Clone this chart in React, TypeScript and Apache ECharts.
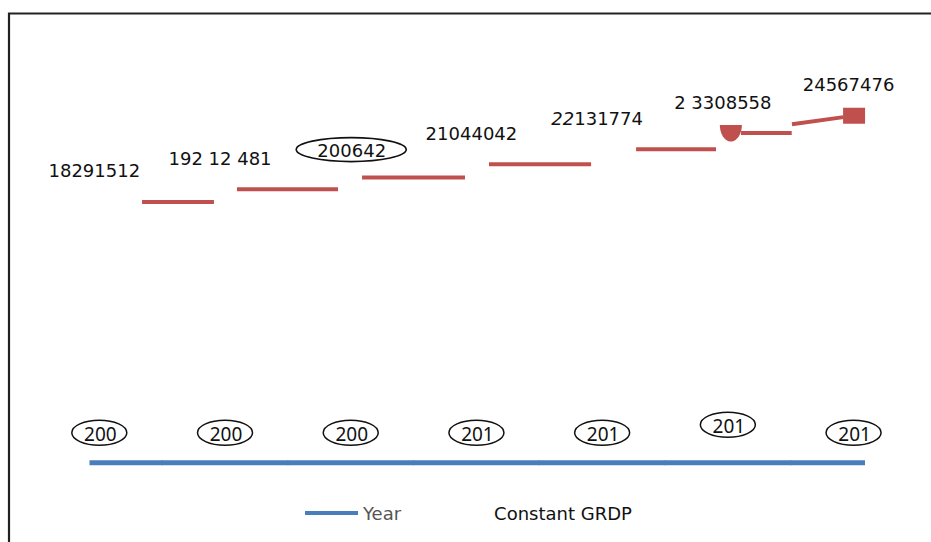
import React, { useEffect, useRef } from 'react';
import * as echarts from 'echarts';

// ---- data ----
const years = [2007, 2008, 2009, 2010, 2011, 2012, 2013];
const yearLabels = years.map((y) => String(y).slice(0, 3));
const grdp = [18291512, 19212481, 20064200, 21044042, 22131774, 23308558, 24567476];
const grdpLabels = ['18291512', '192 12 481', '200642', '21044042', '{i|22}131774', '2 3308558', '24567476'];
const seriesNames = ['Year', 'Constant GRDP'];

// ---- styling (fractions of one category step) ----
const PIECES: number[][] = [
  [0.34, 0.912],
  [0.095, 0.899],
  [0.09, 0.909],
  [0.1, 0.912],
  [0.27, 0.906],
  [0.105, 0.508],
  [-0.49, -0.08],
];
const YEAR_LIFT = [30, 30, 30, 30, 30, 38, 30];
const RED = '#c0504d';
const BLUE = '#4a7ebb';

export default function App() {
  const ref = useRef<HTMLDivElement>(null);
  useEffect(() => {
    if (!ref.current) return;
    const chart = echarts.init(ref.current, null, { renderer: 'svg' });

    const grdpItem = (params: any, api: any) => {
      const i = params.dataIndex;
      const xv = api.value(0);
      const v = api.value(1);
      const [px, py] = api.coord([xv, v]);
      const step = api.coord([xv + 1, v])[0] - px;
      const children: any[] = [];
      const [f0, f1] = PIECES[i];
      if (f0 >= 0) {
        children.push({
          type: 'line',
          shape: { x1: px + f0 * step, y1: py, x2: px + f1 * step, y2: py },
          style: { stroke: RED, lineWidth: 4 },
        });
      } else {
        const prevY = api.coord([xv - 1, grdp[i - 1]])[1];
        const at = (f: number) => [px + f * step, py + (py - prevY) * f];
        const a = at(f0);
        const b = at(f1);
        children.push({
          type: 'line',
          shape: { x1: a[0], y1: a[1], x2: b[0], y2: b[1] },
          style: { stroke: RED, lineWidth: 4 },
        });
      }
      if (i === 5) {
        const cx = px + 3;
        const cy = py - 8;
        const pts: number[][] = [];
        for (let k = 0; k <= 24; k++) {
          const t = (Math.PI * k) / 24;
          pts.push([cx + 11 * Math.cos(t), cy + 16.5 * Math.sin(t)]);
        }
        children.push({ type: 'polygon', shape: { points: pts }, style: { fill: RED } });
      }
      if (i === 6) {
        children.push({
          type: 'rect',
          shape: { x: px - 10.5, y: py - 8, width: 22, height: 16 },
          style: { fill: RED },
        });
      }
      const circled = i === 2;
      const lx = px + (circled ? 1 : -5);
      const ly = py + (circled ? -27.5 : -31);
      if (circled) {
        children.push({
          type: 'ellipse',
          shape: { cx: lx - 0.5, cy: ly - 0.5, rx: 55, ry: 12 },
          style: { fill: 'none', stroke: '#111', lineWidth: 1.6 },
        });
      }
      children.push({
        type: 'text',
        x: lx,
        y: ly,
        style: {
          text: grdpLabels[i],
          fontFamily: 'DejaVu Sans',
          fontSize: 18,
          fill: '#111',
          align: 'center',
          verticalAlign: 'middle',
          rich: { i: { fontStyle: 'italic', fontFamily: 'DejaVu Sans', fontSize: 18, fill: '#111' } },
        },
      });
      return { type: 'group', children };
    };

    const yearItem = (params: any, api: any) => {
      const i = params.dataIndex;
      const xv = api.value(0);
      const v = api.value(1);
      const [px, py] = api.coord([xv, v]);
      const step = api.coord([xv + 1, v])[0] - px;
      const cs = params.coordSys;
      const x1 = Math.max(cs.x, px - step / 2 - 0.5);
      const x2 = Math.min(cs.x + cs.width, px + step / 2 + 0.5);
      const cy = py - YEAR_LIFT[i];
      return {
        type: 'group',
        children: [
          { type: 'line', shape: { x1, y1: py, x2, y2: py }, style: { stroke: BLUE, lineWidth: 5 } },
          {
            type: 'ellipse',
            shape: { cx: px, cy, rx: 27.5, ry: 12.5 },
            style: { fill: 'none', stroke: '#111', lineWidth: 1.5 },
          },
          {
            type: 'text',
            x: px + 1,
            y: cy + 1.5,
            style: {
              text: yearLabels[i],
              fontFamily: 'Noto Sans',
              fontSize: 19,
              fill: '#111',
              align: 'center',
              verticalAlign: 'middle',
            },
          },
        ],
      };
    };

    chart.setOption({
      animation: false,
      graphic: [
        {
          type: 'rect',
          shape: { x: 9, y: 13.5, width: 940, height: 560 },
          style: { fill: 'none', stroke: '#222', lineWidth: 2.2 },
          silent: true,
        },
      ],
      grid: { left: 89.5, right: 66, top: 41.1, bottom: 78.43 },
      xAxis: { type: 'value', min: -0.078, max: 6.091, show: false },
      yAxis: [
        { type: 'value', min: -750000, max: 30000000, show: false },
        { type: 'value', min: 0, max: 1000000, show: false },
      ],
      legend: {
        left: 305,
        top: 504,
        padding: 0,
        itemGap: 35,
        itemWidth: 53,
        itemHeight: 4,
        textStyle: { fontFamily: 'DejaVu Sans', fontSize: 18 },
        data: [
          { name: seriesNames[0], icon: 'rect', itemStyle: { color: BLUE }, textStyle: { color: '#555' } },
          {
            name: seriesNames[1],
            icon: 'rect',
            itemStyle: { color: 'rgba(0,0,0,0)' },
            textStyle: { color: '#111' },
          },
        ],
      },
      series: [
        {
          name: seriesNames[0],
          type: 'custom',
          yAxisIndex: 1,
          itemStyle: { color: BLUE },
          renderItem: yearItem,
          data: years.map((y, i) => [i, y]),
        },
        {
          name: seriesNames[1],
          type: 'custom',
          yAxisIndex: 0,
          itemStyle: { color: RED },
          renderItem: grdpItem,
          data: grdp.map((v, i) => [i, v]),
        },
      ],
    });
    return () => chart.dispose();
  }, []);

  return (
    <div
      ref={ref}
      style={{ position: 'absolute', left: 0, top: 0, width: 931, height: 542, background: '#fff' }}
    />
  );
}
